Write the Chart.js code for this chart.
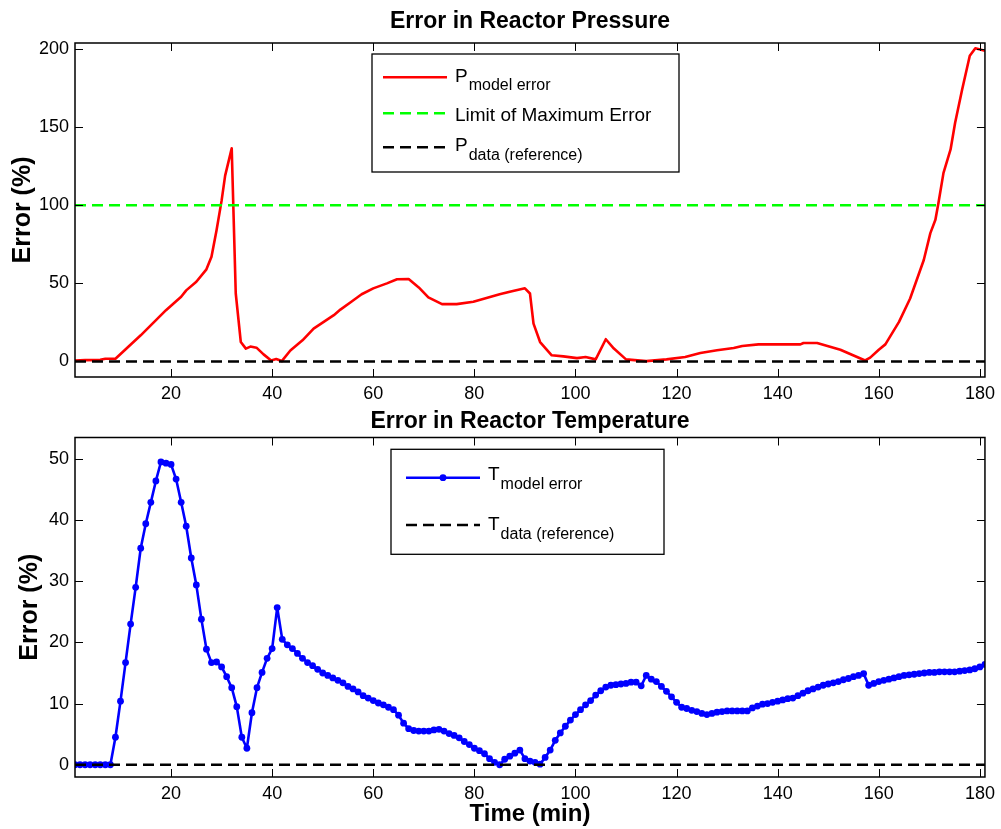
<!DOCTYPE html>
<html>
<head>
<meta charset="utf-8">
<script src="https://cdn.jsdelivr.net/npm/chart.js@4.4.1/dist/chart.umd.min.js"></script>
<style>
html,body{margin:0;padding:0;background:#fff;}
#wrap{position:relative;width:1001px;height:829px;overflow:hidden;background:#fff;}
canvas{position:absolute;left:0;}
#c1{top:0;}
#c2{top:400px;}
</style>
</head>
<body>
<div id="wrap">
<canvas id="c1" width="1001" height="410"></canvas>
<canvas id="c2" width="1001" height="429"></canvas>
</div>
<script>
// ---------- DATA ----------
const xTicks = [20, 40, 60, 80, 100, 120, 140, 160, 180];
const yTicksPressure = [0, 50, 100, 150, 200];
const yTicksTemperature = [0, 10, 20, 30, 40, 50];

// Pressure model error (%) vs time (min)
const timeP = [1,3,6,7,9,14,19,22,23,25,27,28,29,30,30.7,32,32.8,33.8,34.8,35.7,36.9,38.3,39.8,40.8,41.9,43.6,46,48.2,50.2,52.2,53.5,55.8,57.7,60,62.7,64.7,67,69,70.9,73.6,76.5,79.8,85,87,90,91,91.7,93,95.3,97.6,100.3,102,104,106,107.6,110,114,118,121.7,124.7,128,131.3,133,136.2,144.5,145.1,147.8,152.4,157.3,158.3,160,161.3,164,166.2,168.9,170.2,171.2,171.8,172.8,174.2,175.1,176.5,178,179.1,181];
const pModelError = [0.6,0.8,1.0,1.7,1.7,16.7,32.8,41.4,45.5,51,59,67,84,103,119,136.5,43.5,12.4,8.2,9.5,8.8,4.5,0.6,1.5,0.2,7,13.5,21,25.3,29.6,33.2,38.5,43,46.8,50,52.6,52.8,47.4,41,36.7,36.7,38.2,43,44.6,46.8,43.5,24.2,12.4,3.9,3.2,2.1,2.8,1.3,14.2,8.2,1.3,0.2,1.3,2.8,5.4,7.1,8.6,9.9,10.9,10.9,11.8,11.8,7.5,0.6,2.4,7.5,10.9,25.3,40.3,65,82.2,90.7,101.5,120.8,135.8,152.9,174.4,195.8,200.6,199];

// Horizontal reference lines
const refTime = [1, 181];
const limitMaxError = [100, 100];
const pDataRef = [0, 0];
const tDataRef = [0, 0];

// Temperature model error (%) sampled each minute
const timeT = [1,2,3,4,5,6,7,8,9,10,11,12,13,14,15,16,17,18,19,20,21,22,23,24,25,26,27,28,29,30,31,32,33,34,35,36,37,38,39,40,41,42,43,44,45,46,47,48,49,50,51,52,53,54,55,56,57,58,59,60,61,62,63,64,65,66,67,68,69,70,71,72,73,74,75,76,77,78,79,80,81,82,83,84,85,86,87,88,89,90,91,92,93,94,95,96,97,98,99,100,101,102,103,104,105,106,107,108,109,110,111,112,113,114,115,116,117,118,119,120,121,122,123,124,125,126,127,128,129,130,131,132,133,134,135,136,137,138,139,140,141,142,143,144,145,146,147,148,149,150,151,152,153,154,155,156,157,158,159,160,161,162,163,164,165,166,167,168,169,170,171,172,173,174,175,176,177,178,179,180,181];
const tModelError = [
 0,0,0,0,0,0,0,0,4.5,10.4,
 16.7,23.0,29.0,35.4,39.4,42.9,46.4,49.5,49.3,49.1,
 46.7,42.9,39.0,33.8,29.4,23.8,18.9,16.7,16.8,16.0,
 14.4,12.6,9.5,4.5,2.7,8.5,12.6,15.1,17.4,19.0,
 25.7,20.5,19.6,19.0,18.2,17.4,16.7,16.2,15.6,15.0,
 14.6,14.2,13.8,13.4,12.8,12.4,11.9,11.3,10.9,10.5,
 10.1,9.8,9.4,9.0,8.1,6.8,5.9,5.6,5.5,5.5,
 5.5,5.7,5.8,5.5,5.1,4.8,4.4,3.8,3.3,2.7,
 2.3,1.8,1.0,0.4,0.0,0.9,1.4,1.9,2.4,1.0,
 0.6,0.4,0.1,1.2,2.4,4.0,5.2,6.3,7.3,8.2,
 9.0,9.8,10.5,11.4,12.1,12.7,13.0,13.1,13.2,13.3,
 13.5,13.5,12.9,14.6,14.0,13.6,12.8,12.0,11.1,10.2,
 9.4,9.2,8.9,8.7,8.4,8.2,8.4,8.6,8.7,8.8,
 8.8,8.8,8.8,8.8,9.3,9.6,9.9,10.0,10.2,10.4,
 10.6,10.8,10.9,11.3,11.7,12.1,12.4,12.7,13.0,13.2,
 13.4,13.6,13.9,14.1,14.4,14.6,14.9,13.0,13.3,13.6,
 13.8,14.0,14.2,14.4,14.6,14.7,14.8,14.9,15.0,15.1,
 15.1,15.2,15.2,15.2,15.2,15.3,15.4,15.5,15.7,16.0,16.4
];

// ---------- STYLE / HELPERS ----------
const FAMILY = "'Liberation Sans', Arial, Helvetica, sans-serif";
Chart.defaults.font.family = FAMILY;
Chart.defaults.color = '#000';

const pts = (xs, ys) => xs.map((x, i) => ({x: x, y: ys[i]}));
const DASH = [11, 6];

const boxAndTicks = {
  id: 'boxAndTicks',
  afterDatasetsDraw(chart) {
    const {ctx, chartArea: a} = chart;
    const xs = chart.scales.x, ys = chart.scales.y;
    const L = 8;
    ctx.save();
    ctx.strokeStyle = '#000';
    ctx.lineWidth = 1;
    ctx.beginPath();
    xs.ticks.forEach(t => {
      const p = Math.round(xs.getPixelForValue(t.value)) + 0.5;
      ctx.moveTo(p, a.bottom); ctx.lineTo(p, a.bottom - L);
      ctx.moveTo(p, a.top); ctx.lineTo(p, a.top + L);
    });
    ys.ticks.forEach(t => {
      const p = Math.round(ys.getPixelForValue(t.value)) + 0.5;
      ctx.moveTo(a.left, p); ctx.lineTo(a.left + L, p);
      ctx.moveTo(a.right, p); ctx.lineTo(a.right - L, p);
    });
    ctx.stroke();
    ctx.lineWidth = 1.5;
    ctx.strokeRect(a.left, a.top, a.right - a.left, a.bottom - a.top);
    ctx.restore();
  }
};

const matLegend = {
  id: 'matLegend',
  afterDraw(chart, args, o) {
    if (!o || !o.box) return;
    const ctx = chart.ctx;
    const [x1, y1, x2, y2] = o.box;
    ctx.save();
    ctx.fillStyle = '#fff';
    ctx.fillRect(x1, y1, x2 - x1, y2 - y1);
    ctx.strokeStyle = '#000';
    ctx.lineWidth = 1.3;
    ctx.strokeRect(x1, y1, x2 - x1, y2 - y1);
    o.items.forEach(it => {
      const ds = chart.data.datasets[it.dataset];
      ctx.save();
      ctx.strokeStyle = ds.borderColor;
      ctx.lineWidth = ds.borderWidth;
      ctx.setLineDash(ds.borderDash || []);
      ctx.beginPath();
      ctx.moveTo(o.lineX[0], it.y);
      ctx.lineTo(o.lineX[1], it.y);
      ctx.stroke();
      if (ds.pointRadius > 0) {
        ctx.setLineDash([]);
        ctx.fillStyle = ds.pointBackgroundColor;
        ctx.beginPath();
        ctx.arc((o.lineX[0] + o.lineX[1]) / 2, it.y, ds.pointRadius, 0, Math.PI * 2);
        ctx.fill();
      }
      ctx.restore();
      ctx.fillStyle = '#000';
      ctx.textAlign = 'left';
      ctx.textBaseline = 'alphabetic';
      ctx.font = '19px ' + FAMILY;
      ctx.fillText(it.main, o.textX, it.y + it.base);
      if (it.sub) {
        const w = ctx.measureText(it.main).width;
        ctx.font = '16px ' + FAMILY;
        ctx.fillText(it.sub, o.textX + w + 1, it.y + it.base + 8.5);
      }
    });
    ctx.restore();
  }
};

function xScale(height, withTitle) {
  const s = {
    type: 'linear', position: 'bottom', min: 1, max: 181,
    grid: {display: false, drawTicks: false},
    border: {display: false},
    ticks: {padding: 6, font: {size: 18}, color: '#000', maxRotation: 0, autoSkip: false},
    afterBuildTicks: sc => { sc.ticks = xTicks.map(v => ({value: v})); },
    afterFit: sc => { sc.height = height; }
  };
  if (withTitle) {
    s.title = {display: true, text: 'Time (min)', font: {size: 24, weight: 'bold'}, color: '#000', padding: {top: 0, bottom: 0}};
  }
  return s;
}
function yScale(min, max, tickList, titlePad) {
  return {
    type: 'linear', position: 'left', min: min, max: max,
    grid: {display: false, drawTicks: false},
    border: {display: false},
    ticks: {padding: 6, font: {size: 18}, color: '#000'},
    afterBuildTicks: sc => { sc.ticks = tickList.map(v => ({value: v})); },
    title: {display: true, text: 'Error (%)', font: {size: 25, weight: 'bold'}, color: '#000', padding: {top: titlePad, bottom: 0}},
    afterFit: sc => { sc.width = 75; }
  };
}

// ---------- TOP CHART: pressure ----------
new Chart(document.getElementById('c1'), {
  type: 'line',
  data: {
    datasets: [
      {label: 'P model error', data: pts(timeP, pModelError), borderColor: '#ff0000', borderWidth: 2.6, borderJoinStyle: 'round', pointRadius: 0, tension: 0, order: 3},
      {label: 'Limit of Maximum Error', data: pts(refTime, limitMaxError), borderColor: '#00ff00', borderWidth: 2.5, borderDash: DASH, pointRadius: 0, order: 2},
      {label: 'P data (reference)', data: pts(refTime, pDataRef), borderColor: '#000000', borderWidth: 2.5, borderDash: DASH, pointRadius: 0, order: 1}
    ]
  },
  options: {
    responsive: false, animation: false, devicePixelRatio: 1,
    layout: {padding: {left: 0, right: 15, top: 0, bottom: 0}},
    scales: {x: xScale(33, false), y: yScale(-10, 204, yTicksPressure, 8)},
    plugins: {
      legend: {display: false}, tooltip: {enabled: false},
      title: {display: true, fullSize: false, text: 'Error in Reactor Pressure', color: '#000', font: {size: 23, weight: 'bold'}, padding: {top: 8, bottom: 7.4}},
      matLegend: {
        box: [372, 54, 679, 172], lineX: [383, 447], textX: 455,
        items: [
          {dataset: 0, y: 77.3, main: 'P', sub: 'model error', base: 4.5},
          {dataset: 1, y: 113.3, main: 'Limit of Maximum Error', base: 8},
          {dataset: 2, y: 147.3, main: 'P', sub: 'data (reference)', base: 4}
        ]
      }
    }
  },
  plugins: [boxAndTicks, matLegend]
});

// ---------- BOTTOM CHART: temperature ----------
new Chart(document.getElementById('c2'), {
  type: 'line',
  data: {
    datasets: [
      {label: 'T model error', data: pts(timeT, tModelError), borderColor: '#0000ff', borderWidth: 2.6, borderJoinStyle: 'round', pointRadius: 3.4, pointBackgroundColor: '#0000ff', pointBorderWidth: 0, pointBorderColor: '#0000ff', tension: 0, order: 2},
      {label: 'T data (reference)', data: pts(refTime, tDataRef), borderColor: '#000000', borderWidth: 2.5, borderDash: DASH, pointRadius: 0, order: 1}
    ]
  },
  options: {
    responsive: false, animation: false, devicePixelRatio: 1,
    layout: {padding: {left: 0, right: 15, top: 0, bottom: 0}},
    scales: {x: xScale(52, true), y: yScale(-2, 53.5, yTicksTemperature, 15)},
    plugins: {
      legend: {display: false}, tooltip: {enabled: false},
      title: {display: true, fullSize: false, text: 'Error in Reactor Temperature', color: '#000', font: {size: 23, weight: 'bold'}, padding: {top: 8, bottom: 1.9}},
      matLegend: {
        box: [391, 49.3, 664, 154.3], lineX: [406, 480], textX: 488,
        items: [
          {dataset: 0, y: 77.7, main: 'T', sub: 'model error', base: 2.5},
          {dataset: 1, y: 125, main: 'T', sub: 'data (reference)', base: 5}
        ]
      }
    }
  },
  plugins: [boxAndTicks, matLegend]
});
</script>
</body>
</html>
